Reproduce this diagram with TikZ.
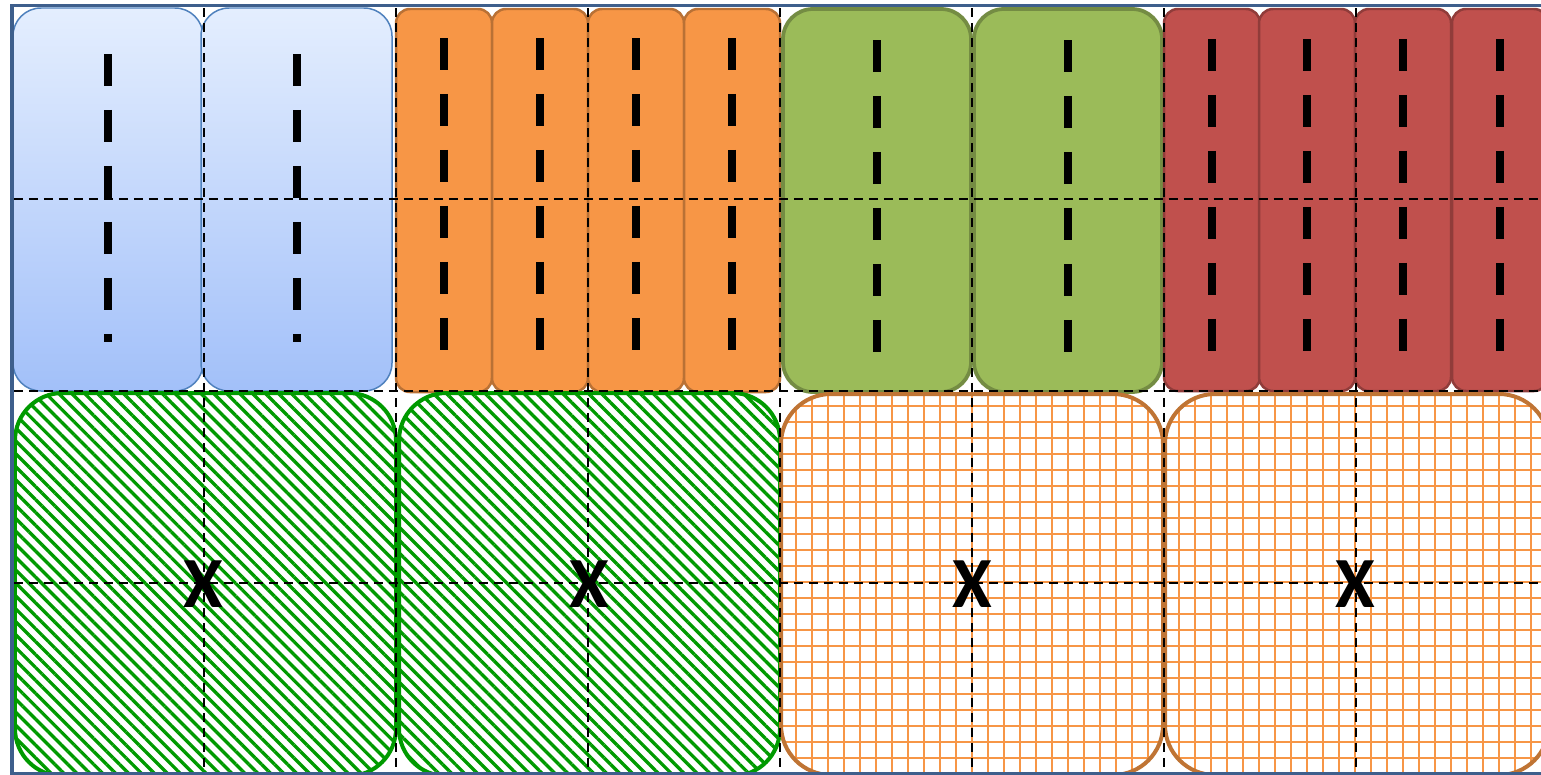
\documentclass[tikz,border=0pt]{standalone}
\usepackage{fontspec}
\setsansfont{Carlito}
\usepackage{tikz}
\usetikzlibrary{patterns.meta}
\definecolor{frameblue}{HTML}{3E5F8C}
\definecolor{tileblue}{HTML}{4F81BD}
\definecolor{bluetop}{HTML}{E4EEFE}
\definecolor{bluebot}{HTML}{A2C0F9}
\definecolor{tileorange}{HTML}{F79646}
\definecolor{tilegreen}{HTML}{9BBB59}
\definecolor{tilered}{HTML}{C0504D}
\definecolor{hatchgreen}{HTML}{009A00}
\definecolor{gridedge}{HTML}{BF7434}
\tikzset{
  frameline/.style={draw=frameblue,line width=0.08cm},
  bluetile/.style={draw=tileblue,line width=0.03cm,top color=bluetop,bottom color=bluebot,rounded corners=0.56cm},
  tile/.style={draw=#1!75!black,fill=#1,line width=0.05cm,rounded corners=0.28cm},
  widetile/.style={draw=#1!75!black,fill=#1,line width=0.075cm,rounded corners=0.6cm},
  tick/.style={line width=0.16cm,dash pattern=on 0.64cm off 0.48cm},
  hatchtile/.style={draw=hatchgreen,line width=0.08cm,rounded corners=0.95cm,
    pattern={Lines[angle=-45,distance=5.2pt,line width=1.9pt]},pattern color=hatchgreen},
  gridtile/.style={draw=gridedge,line width=0.08cm,rounded corners=1cm,
    pattern={Hatch[distance=9.07pt,line width=1pt]},pattern color=tileorange},
  gridline/.style={line width=0.75pt,dash pattern=on 0.18cm off 0.12cm},
  xlabel/.style={font=\sffamily\bfseries\fontsize{41}{41}\selectfont,inner sep=0pt},
}

\begin{document}
\begin{tikzpicture}[x=0.02cm,y=-0.02cm]
  \useasboundingbox (0,0) rectangle (1541,774);
  % top row: blue
  \foreach \xa/\xb in {13/203,201/392}{
    \draw[bluetile] (\xa,8) rectangle (\xb,391);
    \draw[tick] ({(\xa+\xb)/2},54) -- ({(\xa+\xb)/2},342);
  }
  % top row: orange
  \foreach \xa in {396,492,588,684}{
    \draw[tile=tileorange] (\xa,9) rectangle (\xa+96,392);
    \draw[tick] (\xa+48,38) -- (\xa+48,350);
  }
  % top row: green
  \foreach \xa/\xb in {783/971,974/1162}{
    \draw[widetile=tilegreen] (\xa,9) rectangle (\xb,392);
    \draw[tick] ({(\xa+\xb)/2},40) -- ({(\xa+\xb)/2},352);
  }
  % top row: red
  \foreach \xa in {1164,1259,1355,1452}{
    \draw[tile=tilered] (\xa,9) rectangle (\xa+96,391);
    \draw[tick] (\xa+48,39) -- (\xa+48,351);
  }
  % bottom row
  \foreach \xa/\xb in {15/396,399/780}
    \draw[hatchtile] (\xa,393) rectangle (\xb,776);
  \foreach \xa/\xb in {781/1163,1165/1549}
    \draw[gridtile] (\xa,394) rectangle (\xb,775);
  % outer frame
  \draw[frameline] (12,5.5) rectangle (1560,773.5);
  % dashed grid
  \foreach \gx in {204,396,...,1356}
    \draw[gridline] (\gx,8) -- (\gx,772);
  \foreach \gy in {199,391,583}
    \draw[gridline] (14,\gy) -- (1541,\gy);
  % labels
  \foreach \n/\cx in {1/203,2/589,3/972,4/1355}
    \node[xlabel] (mark\n) at (\cx,584) {X};
\end{tikzpicture}
\end{document}
